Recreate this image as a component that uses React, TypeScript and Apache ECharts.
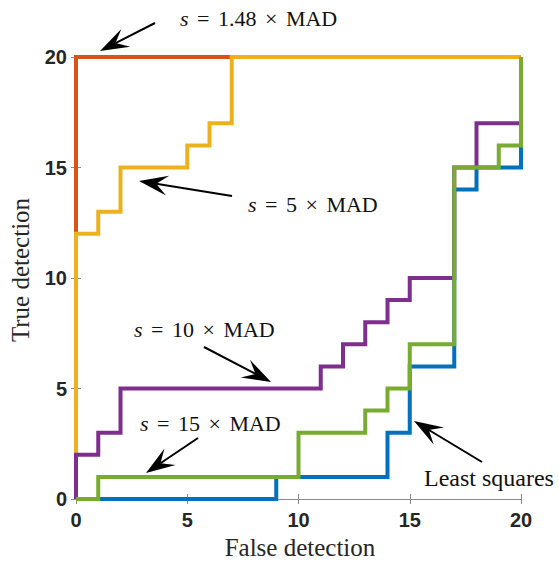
import React, { useEffect, useRef } from "react";
import * as echarts from "echarts";

// Detection curves: x = false detections, y = true detections (step points)
const lsX = [0, 9, 14, 15, 17, 18, 20, 20];
const lsY = [0, 1, 3, 6, 14, 15, 16, 20];
const mad148X = [0, 0, 20];
const mad148Y = [0, 20, 20];
const mad5X = [0, 0, 1, 2, 5, 6, 7, 20];
const mad5Y = [0, 12, 13, 15, 16, 17, 20, 20];
const mad10X = [0, 0, 1, 2, 11, 12, 13, 14, 15, 17, 18, 20];
const mad10Y = [0, 2, 3, 5, 6, 7, 8, 9, 10, 15, 17, 20];
const mad15X = [0, 1, 10, 13, 14, 15, 17, 19, 20];
const mad15Y = [0, 1, 3, 4, 5, 7, 15, 16, 20];

const xTicks = [0, 5, 10, 15, 20];
const yTicks = [0, 5, 10, 15, 20];

const seriesNames = ["Least squares", "s = 1.48 × MAD", "s = 5 × MAD", "s = 10 × MAD", "s = 15 × MAD"];
const seriesColors = ["#0072BD", "#D95319", "#EDB120", "#7E2F8E", "#77AC30"];

const zip = (xs: number[], ys: number[]) => xs.map((x, i) => [x, ys[i]]);

function arrow(tx: number, ty: number, px: number, py: number) {
  const dx = px - tx;
  const dy = py - ty;
  const len = Math.sqrt(dx * dx + dy * dy);
  const ux = dx / len;
  const uy = dy / len;
  const nx = -uy;
  const ny = ux;
  const L = 29;
  const Wd = 10;
  const back = 0.6 * L;
  const pts = [
    [px, py],
    [px - L * ux + Wd * nx, py - L * uy + Wd * ny],
    [px - back * ux, py - back * uy],
    [px - L * ux - Wd * nx, py - L * uy - Wd * ny],
  ];
  return [
    {
      type: "line",
      shape: { x1: tx, y1: ty, x2: px - back * ux, y2: py - back * uy },
      style: { stroke: "#000", lineWidth: 2 },
      z: 100,
    },
    {
      type: "polygon",
      shape: { points: pts },
      style: { fill: "#000" },
      z: 100,
    },
  ];
}

const FS = 22;
function label(text: string, x: number, y: number, size = FS) {
  return {
    type: "text",
    x,
    y,
    z: 100,
    style: {
      text,
      fill: "#111",
      fontFamily: "Liberation Serif",
      fontSize: size,
      align: "left",
      verticalAlign: "middle",
      rich: {
        i: { fontStyle: "italic", fontFamily: "Liberation Serif", fontSize: size, fill: "#111" },
        o: { fontFamily: "Liberation Serif", fontSize: size, fill: "#111", padding: [0, 3] },
      },
    },
  };
}

export default function App() {
  const ref = useRef<HTMLDivElement>(null);
  useEffect(() => {
    if (!ref.current) return;
    const chart = echarts.init(ref.current, undefined, { renderer: "svg" });
    const axisCommon = {
      type: "value",
      min: 0,
      max: 20,
      interval: 5,
      axisLine: { show: true, lineStyle: { color: "#8c8c8c", width: 1 } },
      axisTick: { show: true, inside: true, length: 5, lineStyle: { color: "#8c8c8c" } },
      splitLine: { show: false },
    };
    const labelStyle = {
      fontFamily: "Liberation Sans",
      fontWeight: "bold",
      fontSize: 20,
      color: "#262626",
    };
    const xs = [lsX, mad148X, mad5X, mad10X, mad15X];
    const ys = [lsY, mad148Y, mad5Y, mad10Y, mad15Y];
    chart.setOption({
      animation: false,
      backgroundColor: "#fff",
      grid: { left: 76, right: 38, top: 57, bottom: 64, containLabel: false },
      xAxis: [
        {
          ...axisCommon,
          position: "bottom",
          axisLabel: { ...labelStyle, margin: 11, formatter: (v: number) => (xTicks.includes(v) ? String(v) : "") },
        },
        { ...axisCommon, position: "top", axisLabel: { show: false } },
      ],
      yAxis: [
        {
          ...axisCommon,
          position: "left",
          axisLabel: { ...labelStyle, margin: 9, formatter: (v: number) => (yTicks.includes(v) ? String(v) : "") },
        },
        { ...axisCommon, position: "right", axisLabel: { show: false } },
      ],
      series: xs.map((xv, i) => ({
        name: seriesNames[i],
        type: "line",
        step: "end",
        data: zip(xv, ys[i]),
        xAxisIndex: 0,
        yAxisIndex: 0,
        symbol: "none",
        clip: false,
        z: 10 + i,
        lineStyle: { color: seriesColors[i], width: 4, join: "miter", cap: "butt" },
      })),
      graphic: [
        {
          type: "text",
          x: 300,
          y: 547,
          style: {
            text: "False detection",
            fontFamily: "Liberation Serif",
            fontSize: 25,
            fill: "#262626",
            align: "center",
            verticalAlign: "middle",
          },
        },
        {
          type: "text",
          x: 20,
          y: 270,
          rotation: Math.PI / 2,
          style: {
            text: "True detection",
            fontFamily: "Liberation Serif",
            fontSize: 25,
            fill: "#262626",
            align: "center",
            verticalAlign: "middle",
          },
        },
        label("{i|s} {o|=} 1.48 {o|×} MAD", 180, 18),
        label("{i|s} {o|=} 5 {o|×} MAD", 248, 204),
        label("{i|s} {o|=} 10 {o|×} MAD", 134, 329),
        label("{i|s} {o|=} 15 {o|×} MAD", 140, 423),
        label("Least squares", 424, 478, 24),
        ...arrow(155, 23, 100, 51),
        ...arrow(232, 196, 139, 181),
        ...arrow(204, 347, 271, 382),
        ...arrow(198, 438, 146, 473),
        ...arrow(482, 462, 414, 421),
      ],
    });
    return () => chart.dispose();
  }, []);
  return (
    <div
      ref={ref}
      style={{ position: "absolute", left: 0, top: 0, width: 559, height: 563, background: "#fff" }}
    />
  );
}
